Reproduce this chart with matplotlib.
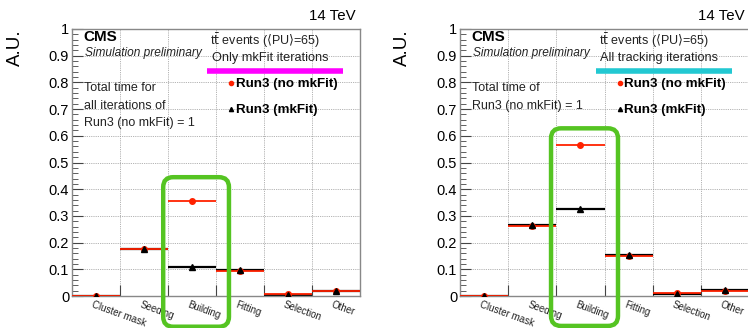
import matplotlib
matplotlib.use("Agg")
import matplotlib.pyplot as plt
from matplotlib.patches import FancyBboxPatch
from matplotlib.transforms import IdentityTransform
from matplotlib.ticker import MultipleLocator
import numpy as np

plt.rcParams['font.family'] = ['Liberation Sans', 'DejaVu Sans']

categories = ["Cluster mask", "Seeding", "Building", "Fitting", "Selection", "Other"]

left_nomkfit = [0.0, 0.175, 0.357, 0.093, 0.006, 0.017]
left_mkfit = [0.0, 0.176, 0.108, 0.096, 0.003, 0.020]

right_nomkfit = [0.0, 0.261, 0.567, 0.149, 0.010, 0.017]
right_mkfit = [0.0, 0.265, 0.325, 0.153, 0.008, 0.021]

RED = '#ff2200'
GREEN = '#55c422'

fig = plt.figure(figsize=(7.48, 3.28), dpi=100)

def make_panel(rect, nomk, mk, info_line, band_color, norm_lines, band_x):
    ax = fig.add_axes(rect)
    n = len(categories)
    ax.set_xlim(0, n)
    ax.set_ylim(0, 1)
    edges = np.arange(n + 1)
    centers = edges[:-1] + 0.5
    # grid
    for e in edges[1:-1]:
        ax.axvline(e, color='#999999', lw=0.6, ls=(0, (1, 1.2)), zorder=0)
    for yv in np.arange(0.1, 1.0, 0.1):
        ax.axhline(yv, color='#999999', lw=0.6, ls=(0, (1, 1.2)), zorder=0)
    # horizontal bin lines
    ax.hlines(mk, edges[:-1], edges[1:], color='black', lw=1.6, zorder=2)
    ax.hlines(nomk, edges[:-1], edges[1:], color=RED, lw=1.3, zorder=3)
    ax.plot(centers, nomk, 'o', color=RED, ms=4, zorder=4, ls='none')
    ax.plot(centers, mk, '^', color='black', ms=4, zorder=5, ls='none')
    # ticks
    ax.set_xticks(edges[1:-1])
    ax.set_xticklabels([])
    ax.tick_params(axis='x', direction='in', length=8, width=0.8, color='#444444')
    ax.yaxis.set_major_locator(MultipleLocator(0.1))
    ax.yaxis.set_minor_locator(MultipleLocator(0.02))
    ax.set_yticks(np.round(np.arange(0, 1.01, 0.1), 1))
    ax.set_yticklabels(['0'] + [f'{v:.1f}' for v in np.arange(0.1, 0.95, 0.1)] + ['1'])
    ax.tick_params(axis='y', which='major', direction='in', length=8, width=0.8,
                   labelsize=10.5, pad=2, color='#444444')
    ax.tick_params(axis='y', which='minor', direction='in', length=4, width=0.6, color='#444444')
    for s in ax.spines.values():
        s.set_color('#888888')
        s.set_linewidth(1.0)
    # x category labels
    for c, lab in zip(centers, categories):
        ax.text(c - 0.05, -0.012, lab, rotation=-20, rotation_mode='anchor',
                ha='left', va='top', fontsize=7, color='#222222',
                transform=ax.transData, clip_on=False)
    # texts
    ax.text(0.04, 0.97, 'CMS', fontsize=11, fontweight='bold',
            transform=ax.transAxes, va='center', ha='left')
    ax.text(0.045, 0.91, 'Simulation preliminary', fontsize=8.6, style='italic',
            transform=ax.transAxes, va='center', ha='left', color='#222222')
    ax.text(0.48, 0.955, r't$\bar{\mathrm{t}}$ events ($\langle$PU$\rangle$=65)', fontsize=9,
            transform=ax.transAxes, va='center', ha='left', color='#222222')
    ax.text(0.485, 0.891, info_line, fontsize=9.2,
            transform=ax.transAxes, va='center', ha='left', color='#222222')
    ax.plot(band_x, [0.843, 0.843], color=band_color, lw=4, transform=ax.transAxes,
            solid_capstyle='butt', clip_on=False, zorder=6)
    ax.plot([0.553], [0.798], 'o', color=RED, ms=3, transform=ax.transAxes, zorder=6)
    ax.text(0.569, 0.795, 'Run3 (no mkFit)', fontsize=9.6, fontweight='bold',
            transform=ax.transAxes, va='center', ha='left')
    ax.plot([0.553], [0.700], '^', color='black', ms=3, transform=ax.transAxes, zorder=6)
    ax.text(0.569, 0.697, 'Run3 (mkFit)', fontsize=9.6, fontweight='bold',
            transform=ax.transAxes, va='center', ha='left')
    for i, line in enumerate(norm_lines):
        ax.text(0.04, 0.779 - i * 0.066, line, fontsize=9,
                transform=ax.transAxes, va='center', ha='left', color='#222222')
    ax.text(0.986, 1.05, '14 TeV', fontsize=10.8, transform=ax.transAxes,
            va='center', ha='right')
    ax.text(-0.198, 1.0, 'A.U.', fontsize=13.5, rotation=90, transform=ax.transAxes,
            va='top', ha='center')
    return ax

axL = make_panel([72 / 748, 32 / 328, 288 / 748, 267 / 328], left_nomkfit, left_mkfit,
                 'Only mkFit iterations', '#ff00ff',
                 ['Total time for', 'all iterations of', 'Run3 (no mkFit) = 1'],
                 [0.469, 0.941])
axR = make_panel([460 / 748, 32 / 328, 289 / 748, 267 / 328], right_nomkfit, right_mkfit,
                 'All tracking iterations', '#22c8d2',
                 ['Total time of', 'Run3 (no mkFit) = 1'],
                 [0.471, 0.941])

fig.canvas.draw()

def green_box(ax, x0, x1, y0, y1):
    (px0, py0) = ax.transData.transform((x0, y0))
    (px1, py1) = ax.transData.transform((x1, y1))
    box = FancyBboxPatch((px0, py0), px1 - px0, py1 - py0,
                         boxstyle='round,pad=0,rounding_size=10',
                         fill=False, edgecolor=GREEN, linewidth=3.2,
                         transform=IdentityTransform(), zorder=10)
    fig.patches.append(box)
    box.set_figure(fig)

green_box(axL, 1.90, 3.27, -0.115, 0.445)
green_box(axR, 1.89, 3.28, -0.112, 0.628)

fig.savefig('out.png', dpi=100)
